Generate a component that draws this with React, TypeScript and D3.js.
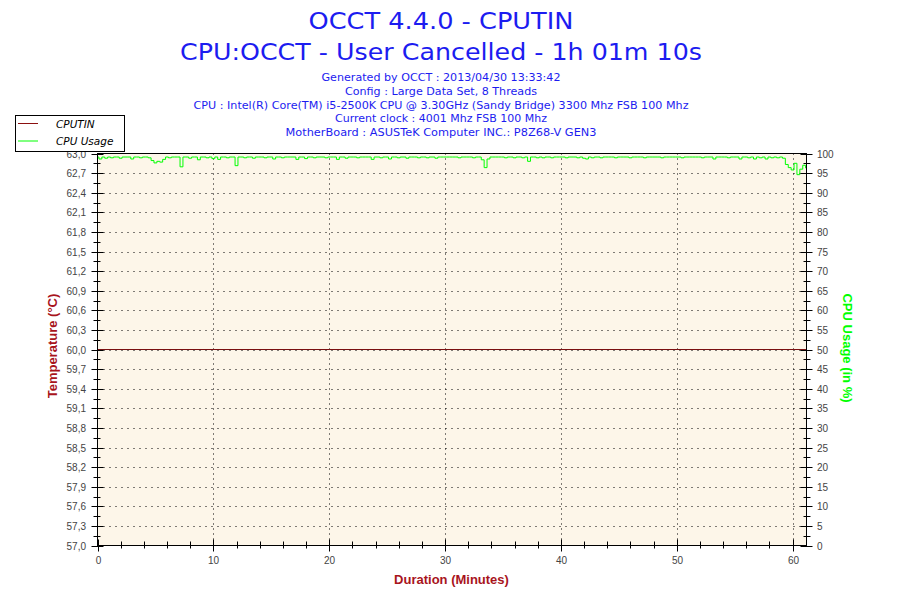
import * as d3 from 'd3';
import React from 'react';

// chart text
const titleLines = ['OCCT 4.4.0 - CPUTIN', 'CPU:OCCT - User Cancelled - 1h 01m 10s'];
const infoLines = [
  'Generated by OCCT : 2013/04/30 13:33:42',
  'Config : Large Data Set, 8 Threads',
  'CPU : Intel(R) Core(TM) i5-2500K CPU @ 3.30GHz (Sandy Bridge) 3300 Mhz FSB 100 Mhz',
  'Current clock : 4001 Mhz FSB 100 Mhz',
  'MotherBoard : ASUSTeK Computer INC.: P8Z68-V GEN3',
];
const legendNames = ['CPUTIN', 'CPU Usage'];

// axes
const minuteTicks = [0, 10, 20, 30, 40, 50, 60];
const tempTicks = [
  57.0, 57.3, 57.6, 57.9, 58.2, 58.5, 58.8, 59.1, 59.4, 59.7, 60.0,
  60.3, 60.6, 60.9, 61.2, 61.5, 61.8, 62.1, 62.4, 62.7, 63.0,
];
const cpuTicks = [
  0, 5, 10, 15, 20, 25, 30, 35, 40, 45, 50, 55, 60, 65, 70, 75, 80, 85, 90, 95, 100,
];
const durationMinutes = 61.17;

// CPUTIN temperature (°C)
const cputinMinutes = [0, 61.17];
const cputinValues = [60.0, 60.0];

// CPU usage (%), one sample every 15 s
const cpuStepMinutes = 0.25;
const cpuUsage = [
  99.1, 98.6, 99.1, 98.8, 99.1, 98.9, 99.1, 99.1, 98.8, 99.1,
  99.1, 99.1, 98.6, 99.1, 99.1, 98.9, 99.1, 99.1, 98.9, 98.2,
  97.6, 98.0, 97.8, 98.5, 99.1, 98.9, 99.1, 99.1, 99.1, 96.6,
  99.1, 99.1, 98.8, 99.1, 99.1, 98.4, 99.1, 99.1, 98.9, 99.1,
  98.7, 99.1, 98.5, 99.1, 99.1, 98.9, 99.1, 99.1, 96.9, 99.1,
  99.1, 98.9, 99.1, 99.1, 98.8, 99.1, 99.1, 99.1, 98.9, 99.1,
  99.1, 98.6, 99.1, 99.1, 98.9, 99.1, 99.1, 99.1, 99.1, 98.5,
  99.1, 99.1, 98.7, 99.1, 99.1, 98.9, 99.1, 99.1, 99.1, 98.9,
  99.1, 99.1, 99.1, 98.5, 99.1, 99.1, 98.8, 99.1, 99.1, 99.1,
  98.9, 99.1, 99.1, 99.1, 99.1, 98.5, 99.1, 99.1, 98.9, 99.1,
  99.1, 98.6, 99.1, 99.1, 98.9, 99.1, 99.1, 98.8, 99.1, 99.1,
  99.1, 98.9, 99.1, 99.1, 98.9, 99.1, 99.1, 98.8, 99.1, 99.1,
  99.1, 99.1, 99.1, 99.1, 99.1, 98.9, 99.1, 99.1, 99.1, 99.1,
  98.9, 99.1, 99.1, 98.4, 96.4, 98.6, 99.1, 99.1, 99.1, 99.1,
  99.1, 98.9, 99.1, 99.1, 98.9, 99.1, 99.1, 98.9, 99.1, 98.0,
  99.1, 99.1, 98.9, 99.1, 98.9, 99.1, 99.1, 98.9, 99.1, 99.1,
  99.1, 99.1, 98.9, 99.1, 99.1, 99.1, 98.9, 99.1, 98.8, 98.6,
  99.1, 98.9, 99.1, 99.1, 98.9, 99.1, 99.1, 99.1, 99.1, 98.9,
  99.1, 99.1, 99.1, 99.1, 98.9, 99.1, 99.1, 99.1, 99.1, 98.9,
  99.1, 99.1, 99.1, 99.1, 99.1, 98.9, 99.1, 99.1, 99.1, 99.1,
  99.1, 99.1, 98.9, 99.1, 99.1, 99.1, 99.1, 99.1, 99.1, 98.9,
  99.1, 99.1, 99.1, 98.6, 99.1, 99.1, 99.1, 99.1, 98.9, 99.1,
  99.1, 99.1, 98.6, 99.1, 99.1, 98.9, 99.1, 98.6, 99.1, 98.9,
  99.1, 98.6, 99.1, 98.9, 99.1, 98.9, 99.1, 98.8, 97.2, 96.4,
  95.8, 97.5, 94.6, 96.0, 97.0, 96.3,
];

const W = 900;
const H = 600;
const plot = { left: 97.5, right: 806.5, top: 153.5, bottom: 545.5 };
const tickFont = '"Liberation Sans", Arial, sans-serif';
const titleFont = '"DejaVu Sans", Verdana, sans-serif';
const blue = '#1c1cf0';
const darkRed = '#a8141c';

function App() {
  const x = d3.scaleLinear().domain([0, 61.2]).range([plot.left, plot.right]);
  const yT = d3.scaleLinear().domain([57, 63]).range([plot.bottom, plot.top]);
  const yC = d3.scaleLinear().domain([0, 100]).range([plot.bottom, plot.top]);

  const mid = (arr: number[]) => arr.slice(1).map((v, i) => (v + arr[i]) / 2);
  const tempMinor = mid(tempTicks);
  const cpuMinor = mid(cpuTicks);
  const minuteMinor = d3.range(0, durationMinutes, 2).filter((m) => m % 10 !== 0);

  const cpuLine = d3
    .line<number>()
    .x((d, i) => x(i * cpuStepMinutes))
    .y((d) => yC(d))
    .curve(d3.curveStep);
  const tempLine = d3
    .line<number>()
    .x((d, i) => x(cputinMinutes[i]))
    .y((d) => yT(d));

  const titleWidths = [265, 522];
  const infoWidths = [239, 192, 495, 212, 311];
  const cx = 441;

  return (
    <svg
      width={W}
      height={H}
      style={{ position: 'fixed', left: 0, top: 0, background: '#fff' }}
    >
      <defs>
        <clipPath id="plotClip">
          <rect x={plot.left} y={plot.top} width={plot.right - plot.left} height={plot.bottom - plot.top} />
        </clipPath>
      </defs>

      {titleLines.map((t, i) => (
        <text
          key={t}
          x={cx}
          y={29 + i * 31}
          textAnchor="middle"
          fontFamily={titleFont}
          fontSize={23}
          fill={blue}
          textLength={titleWidths[i]}
          lengthAdjust="spacingAndGlyphs"
        >
          {t}
        </text>
      ))}
      {infoLines.map((t, i) => (
        <text
          key={t}
          x={cx}
          y={81 + i * 13.8}
          textAnchor="middle"
          fontFamily={titleFont}
          fontSize={10.5}
          fill={blue}
          textLength={infoWidths[i]}
          lengthAdjust="spacingAndGlyphs"
        >
          {t}
        </text>
      ))}

      {/* plot background */}
      <rect
        x={plot.left}
        y={plot.top}
        width={plot.right - plot.left}
        height={plot.bottom - plot.top}
        fill="#fdf6e9"
      />

      {/* grid */}
      {tempTicks.slice(1, -1).map((t) => (
        <line
          key={'gh' + t}
          x1={plot.left}
          x2={plot.right}
          y1={Math.round(yT(t)) + 0.5}
          y2={Math.round(yT(t)) + 0.5}
          stroke="#000"
          strokeDasharray="1,5"
        />
      ))}
      {minuteTicks.slice(1).map((m) => (
        <line
          key={'gv' + m}
          x1={Math.round(x(m)) + 0.5}
          x2={Math.round(x(m)) + 0.5}
          y1={plot.top}
          y2={plot.bottom}
          stroke="#000"
          strokeDasharray="1,4"
        />
      ))}

      {/* series */}
      <g clipPath="url(#plotClip)">
        <path d={tempLine(cputinValues) || ''} fill="none" stroke="#7a1010" strokeWidth={1} />
        <path d={cpuLine(cpuUsage) || ''} fill="none" stroke="#00ff00" strokeWidth={1} />
      </g>

      {/* frame */}
      <rect
        x={plot.left}
        y={plot.top}
        width={plot.right - plot.left}
        height={plot.bottom - plot.top}
        fill="none"
        stroke="#000"
        strokeWidth={1}
      />

      {/* left axis */}
      {tempTicks.map((t) => {
        const y = Math.round(yT(t)) + 0.5;
        return (
          <g key={'lt' + t}>
            <line x1={91.5} x2={103.5} y1={y} y2={y} stroke="#000" />
            <text
              x={86}
              y={y + 3.5}
              textAnchor="end"
              fontFamily={tickFont}
              fontSize={10}
              fill="#444"
            >
              {t.toFixed(1).replace('.', ',')}
            </text>
          </g>
        );
      })}
      {tempMinor.map((t) => {
        const y = Math.round(yT(t)) + 0.5;
        return <line key={'lm' + t} x1={93.5} x2={100.5} y1={y} y2={y} stroke="#000" />;
      })}

      {/* right axis */}
      {cpuTicks.map((t) => {
        const y = Math.round(yC(t)) + 0.5;
        return (
          <g key={'rt' + t}>
            <line x1={800.5} x2={812.5} y1={y} y2={y} stroke="#000" />
            <text
              x={817}
              y={y + 3.5}
              textAnchor="start"
              fontFamily={tickFont}
              fontSize={10}
              fill="#444"
            >
              {t}
            </text>
          </g>
        );
      })}
      {cpuMinor.map((t) => {
        const y = Math.round(yC(t)) + 0.5;
        return <line key={'rm' + t} x1={803.5} x2={810.5} y1={y} y2={y} stroke="#000" />;
      })}

      {/* bottom axis */}
      {minuteTicks.map((m) => {
        const xx = Math.round(x(m)) + 0.5;
        return (
          <g key={'bt' + m}>
            <line x1={xx} x2={xx} y1={539.5} y2={551.5} stroke="#000" />
            <text
              x={xx}
              y={564}
              textAnchor="middle"
              fontFamily={tickFont}
              fontSize={10}
              fill="#444"
            >
              {m}
            </text>
          </g>
        );
      })}
      {minuteMinor.map((m) => {
        const xx = Math.round(x(m)) + 0.5;
        return <line key={'bm' + m} x1={xx} x2={xx} y1={541.5} y2={548.5} stroke="#000" />;
      })}

      {/* axis titles */}
      <text
        x={451.5}
        y={584}
        textAnchor="middle"
        fontFamily={tickFont}
        fontWeight="bold"
        fontSize={13}
        fill={darkRed}
      >
        Duration (Minutes)
      </text>
      <text
        transform="translate(56.5,346) rotate(-90)"
        textAnchor="middle"
        fontFamily={tickFont}
        fontWeight="bold"
        fontSize={13}
        fill={darkRed}
      >
        Temperature (°C)
      </text>
      <text
        transform="translate(843,348) rotate(90)"
        textAnchor="middle"
        fontFamily={tickFont}
        fontWeight="bold"
        fontSize={13}
        fill="#00ff00"
      >
        CPU Usage (in %)
      </text>

      {/* legend */}
      <rect x={15.5} y={115.5} width={109} height={36} fill="#fff" stroke="#000" />
      {legendNames.map((name, i) => (
        <g key={name}>
          <line
            x1={18}
            x2={38}
            y1={123.5 + i * 17.5}
            y2={123.5 + i * 17.5}
            stroke={i === 0 ? '#8b1010' : '#00ff00'}
          />
          <text
            x={56}
            y={127.5 + i * 17.5}
            fontFamily={titleFont}
            fontStyle="italic"
            fontSize={10.5}
            fill="#000"
          >
            {name}
          </text>
        </g>
      ))}
    </svg>
  );
}

export default App;
